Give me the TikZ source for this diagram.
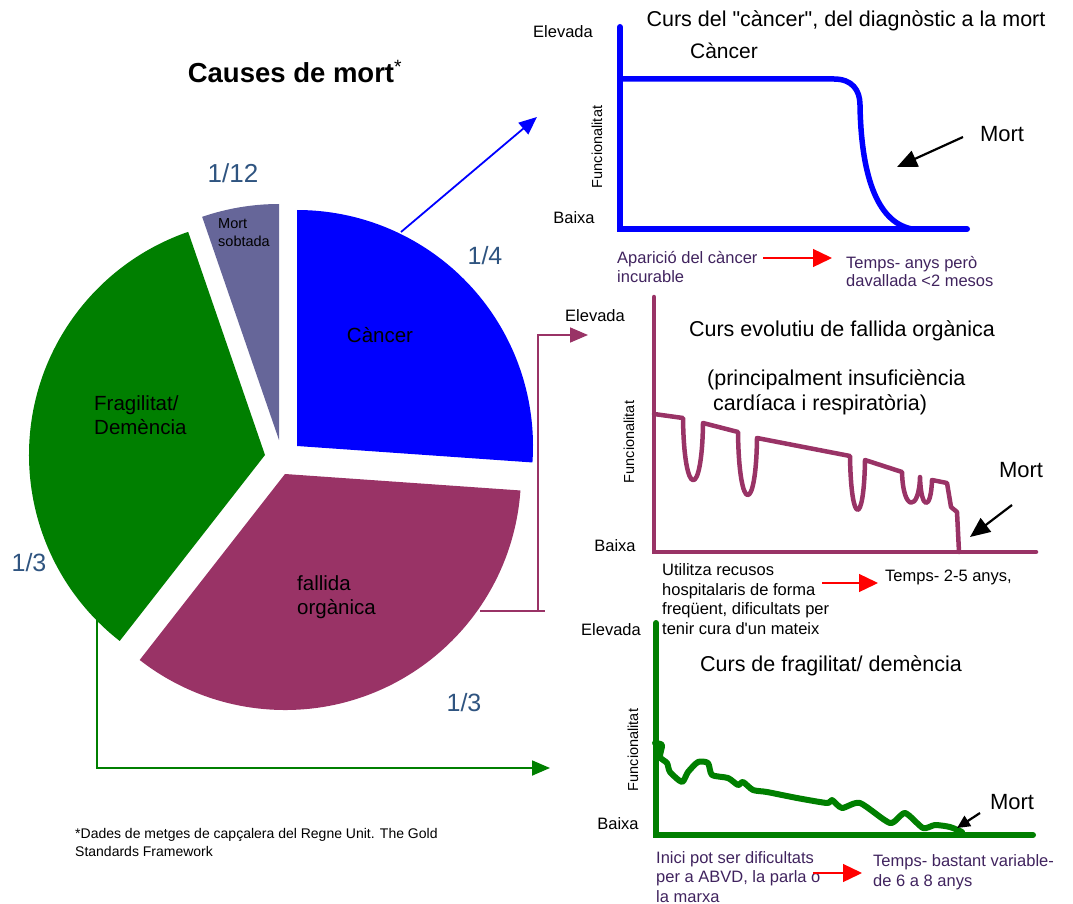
\documentclass[tikz,border=0pt]{standalone}
\usepackage{fontspec}
\setmainfont{Liberation Sans}[Ligatures=TeXOff]
\usetikzlibrary{arrows.meta, positioning}

\definecolor{cblue}{HTML}{0000FF}
\definecolor{cpurple}{HTML}{993366}
\definecolor{cgreen}{HTML}{007F00}
\definecolor{cgrey}{HTML}{666699}
\definecolor{cfrac}{HTML}{2F5480}
\definecolor{ctext}{HTML}{40235E}

\begin{document}
\begin{tikzpicture}[x=1pt, y=-1pt, >={Triangle[length=18pt, width=15pt]},
    axis/.style={line width=5pt, line cap=round},
    curve/.style={line width=5pt, line cap=round, line join=round},
    link/.style={line width=1.8pt, ->},
    redarrow/.style={red, line width=1.3pt, -{Triangle[length=19pt, width=18pt]}},
    mortarrow/.style={black, line width=2.2pt, -{Triangle[length=20pt, width=17pt]}},
    txt/.style={inner sep=0pt, align=left, anchor=base west, font=\fontsize{16.5}{19.5}\selectfont},
    level/.style={inner sep=0pt, anchor=base, font=\fontsize{16.5}{19.5}\selectfont},
    func/.style={inner sep=0pt, rotate=90, font=\fontsize{14.5}{16}\selectfont},
    ctitle/.style={inner sep=0pt, anchor=base, font=\fontsize{21.5}{25}\selectfont},
    mort/.style={inner sep=0pt, anchor=base, font=\fontsize{22}{26}\selectfont},
    frac/.style={inner sep=0pt, anchor=base, text=cfrac, font=\fontsize{25}{30}\selectfont},
    slice/.style={inner sep=0pt, align=left, anchor=base west, font=\fontsize{20.5}{24}\selectfont}]

    \useasboundingbox (0,0) rectangle (1073,904);

    \coordinate (s01) at (279,440);
    \coordinate (s02) at (297,446);
    \coordinate (s03) at (285,474);
    \coordinate (s04) at (265,455);

    \coordinate (k01) at (401,232);
    \coordinate (k02) at (537,117);
    \coordinate (k03) at (480,611);
    \coordinate (k04) at (545,611);
    \coordinate (k05) at (538,611);
    \coordinate (k06) at (588,335);
    \coordinate (k07) at ( 97,620);
    \coordinate (k08) at (550,768);

    \coordinate (a01) at ( 620, 27);
    \coordinate (a02) at ( 620,229);
    \coordinate (a03) at ( 967,229);
    \coordinate (a04) at ( 654,297);
    \coordinate (a05) at ( 654,552);
    \coordinate (a06) at (1036,552);
    \coordinate (a07) at ( 656,623);
    \coordinate (a08) at ( 656,835);
    \coordinate (a09) at (1033,835);

    \coordinate (r01) at (763,258);
    \coordinate (r02) at (832,258);
    \coordinate (r03) at (822,583);
    \coordinate (r04) at (878,583);
    \coordinate (r05) at (813,873);
    \coordinate (r06) at (862,873);

    \coordinate (m01) at ( 963,137);
    \coordinate (m02) at ( 897,167);
    \coordinate (m03) at (1012,505);
    \coordinate (m04) at ( 970,537);
    \coordinate (m05) at ( 980,813);
    \coordinate (m06) at ( 957,828);

    \coordinate (l01) at (295, 83);
    \coordinate (l02) at (233,183);
    \coordinate (l03) at (485,264);
    \coordinate (l04) at ( 29,571);
    \coordinate (l05) at (464,711);
    \coordinate (l06) at (218,246);
    \coordinate (l07) at (380,342);
    \coordinate (l08) at ( 94,434);
    \coordinate (l09) at (297,614);
    \coordinate (l10) at ( 75,856);

    \coordinate (l11) at ( 846, 27);
    \coordinate (l12) at ( 563, 38);
    \coordinate (l13) at ( 724, 59);
    \coordinate (l14) at ( 597,147);
    \coordinate (l15) at ( 574,223);
    \coordinate (l16) at (1002,142);
    \coordinate (l17) at ( 617,282);
    \coordinate (l18) at ( 846,286);

    \coordinate (l21) at ( 842,336);
    \coordinate (l22) at ( 707,410);
    \coordinate (l23) at ( 595,321);
    \coordinate (l24) at ( 615,551);
    \coordinate (l25) at ( 629,442);
    \coordinate (l26) at (1021,477);
    \coordinate (l27) at ( 662,634);
    \coordinate (l28) at ( 885,581);

    \coordinate (l31) at ( 611,635);
    \coordinate (l32) at ( 831,671);
    \coordinate (l33) at ( 633,750);
    \coordinate (l34) at ( 618,829);
    \coordinate (l35) at (1012,809);
    \coordinate (l36) at ( 656,902);
    \coordinate (l37) at ( 873,886);

    \fill[cgrey]   (s01) -- ++(-90:236) arc[start angle=-90, end angle=-109, radius=236] -- cycle;
    \fill[cblue]   (s02) -- ++(-90:236) arc[start angle=-90, end angle=4, radius=236] -- cycle;
    \fill[cpurple] (s03) -- ++(4:236) arc[start angle=4, end angle=128, radius=236] -- cycle;
    \fill[cgreen]  (s04) -- ++(128:236) arc[start angle=128, end angle=251, radius=236] -- cycle;

    \draw[cblue, link] (k01) -- (k02);
    \draw[cpurple, line width=1.8pt] (k03) -- (k04);
    \draw[cpurple, link] (k05) |- (k06);
    \draw[cgreen, link] (k07) |- (k08);

    \draw[cblue, axis, line width=6pt] (a01) -- (a02) -- (a03);
    \draw[cpurple, axis, line width=4.5pt] (a04) -- (a05) -- (a06);
    \draw[cgreen, axis, line width=6pt] (a07) -- (a08) -- (a09);

    \draw[cblue, curve, line width=5.5pt] (620,79) -- (834,79)
        .. controls (852,79) and (860,90) .. (860,105)
        .. controls (861,170) and (875,222) .. (912,229);
    \draw[cpurple, curve, line width=4.5pt] (654,414) -- (683,418)
        .. controls (684,500) and (702,500) .. (703,423) -- (738,432)
        .. controls (739,515) and (756,515) .. (757,438) -- (850,456)
        .. controls (851,527) and (864,527) .. (865,460) -- (902,472)
        .. controls (903,512) and (919,512) .. (920,477)
        .. controls (921,511) and (931,511) .. (932,480) -- (947,483)
        -- (951,507) -- (957,512) -- (959,552);
    \draw[cgreen, curve, line width=6pt] plot[smooth, tension=0.4] coordinates {
        (655,743) (662,745) (660,757) (667,763) (670,772) (682,782) (688,772)
        (698,762) (708,763) (712,775) (728,778) (738,785) (743,782) (753,790)
        (767,792) (797,798) (827,803) (832,800) (842,808) (860,803) (890,823)
        (905,813) (923,828) (935,825) (950,827) (962,832)};

    \node[inner sep=0pt, anchor=base] (t01) at (l01) {\fontsize{27.5}{32}\selectfont\bfseries Causes de mort\textsuperscript{\mdseries*}};
    \node[frac, font=\fontsize{26}{30}\selectfont] (t02) at (l02) {1/12};
    \node[frac] (t03) at (l03) {1/4};
    \node[frac] (t04) at (l04) {1/3};
    \node[frac] (t05) at (l05) {1/3};
    \node[slice, font=\fontsize{14.5}{18}\selectfont] (t06) at (l06) {Mort\\sobtada};
    \node[slice, anchor=base] (t07) at (l07) {Càncer};
    \node[slice] (t08) at (l08) {Fragilitat/\\Demència};
    \node[slice] (t09) at (l09) {fallida\\orgànica};
    \node[txt, font=\fontsize{14}{18}\selectfont] (t10) at (l10) {*Dades de metges de capçalera del Regne Unit. The Gold\\Standards Framework};

    \node[ctitle] (c11) at (l11) {Curs del "càncer", del diagnòstic a la mort};
    \node[level] (c12) at (l12) {Elevada};
    \node[ctitle, font=\fontsize{21}{25}\selectfont] (c13) at (l13) {Càncer};
    \node[func] (c14) at (l14) {Funcionalitat};
    \node[level] (c15) at (l15) {Baixa};
    \node[mort] (c16) at (l16) {Mort};
    \node[txt, text=ctext, font=\fontsize{16.5}{19}\selectfont] (c17) at (l17) {Aparició del càncer\\incurable};
    \node[txt, text=ctext, font=\fontsize{16.5}{18}\selectfont] (c18) at (l18) {Temps- anys però\\davallada <2 mesos};

    \node[ctitle] (c21) at (l21) {Curs evolutiu de fallida orgànica};
    \node[txt, font=\fontsize{21.5}{25}\selectfont] (c22) at (l22) {(principalment insuficiència\\\hspace{6pt}cardíaca i respiratòria)};
    \node[level] (c23) at (l23) {Elevada};
    \node[level] (c24) at (l24) {Baixa};
    \node[func] (c25) at (l25) {Funcionalitat};
    \node[mort] (c26) at (l26) {Mort};
    \node[txt] (c27) at (l27) {Utilitza recusos\\hospitalaris de forma\\freqüent, dificultats per\\tenir cura d'un mateix};
    \node[txt] (c28) at (l28) {Temps- 2-5 anys,};

    \node[level] (c31) at (l31) {Elevada};
    \node[ctitle] (c32) at (l32) {Curs de fragilitat/ demència};
    \node[func] (c33) at (l33) {Funcionalitat};
    \node[level] (c34) at (l34) {Baixa};
    \node[mort] (c35) at (l35) {Mort};
    \node[txt, text=ctext] (c36) at (l36) {Inici pot ser dificultats\\per a ABVD, la parla o\\la marxa};
    \node[txt, text=ctext, font=\fontsize{16.5}{20}\selectfont] (c37) at (l37) {Temps- bastant variable-\\de 6 a 8 anys};

    \draw[redarrow] (r01) -- (r02);
    \draw[redarrow] (r03) -- (r04);
    \draw[redarrow] (r05) -- (r06);

    \draw[mortarrow] (m01) -- (m02);
    \draw[mortarrow] (m03) -- (m04);
    \draw[mortarrow, -{Triangle[length=13pt, width=12pt]}] (m05) -- (m06);
  \end{tikzpicture}
\end{document}
